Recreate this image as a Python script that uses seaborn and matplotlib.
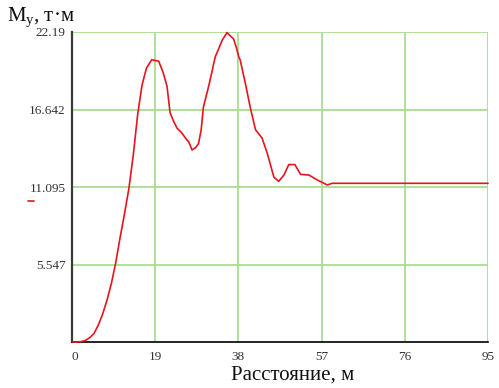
import numpy as np
import pandas as pd
import matplotlib
matplotlib.use("Agg")
import matplotlib.pyplot as plt
import seaborn as sns

# distance, m
distance = [0, 1, 2, 3, 4, 5, 6, 7, 8, 9, 10, 11, 12, 13, 14, 15, 16, 17,
            18.2, 19.8, 20.8, 21.7, 22.4, 23.2, 24.0, 25.0, 25.9, 26.7, 27.4,
            28.2, 28.9, 29.5, 30.0, 31.2, 32.0, 32.7, 33.5, 34.3, 35.4, 36.2,
            36.9, 37.5, 38.1, 38.4, 39.6, 40.7, 41.9, 43.4, 44.6, 45.4, 46.1,
            47.2, 48.4, 49.5, 50.9, 52.2, 54.1, 56.0, 58.3, 59.4, 70, 80, 95]
# bending moment My, t*m
moment = [0.0, 0.0, 0.02, 0.1, 0.3, 0.6, 1.2, 2.0, 3.0, 4.2, 5.7, 7.5, 9.2,
          11.0, 13.4, 16.3, 18.4, 19.6, 20.2, 20.1, 19.3, 18.3, 16.4, 15.8,
          15.3, 15.0, 14.6, 14.3, 13.75, 13.9, 14.2, 15.2, 16.8, 18.3, 19.4,
          20.4, 21.0, 21.6, 22.15, 21.9, 21.7, 21.1, 20.4, 20.2, 18.5, 16.8,
          15.2, 14.6, 13.5, 12.6, 11.8, 11.5, 11.95, 12.7, 12.7, 12.0, 11.95,
          11.6, 11.24, 11.36, 11.36, 11.36, 11.36]

x_ticks = [0, 19, 38, 57, 76, 95]
y_ticks = [0, 5.547, 11.095, 16.642, 22.19]
y_tick_labels = ["", "5.547", "11.095", "16.642", "22.19"]

df = pd.DataFrame({"x": distance, "y": moment})

sns.set_style("white")
plt.rcParams["font.family"] = ["Liberation Serif", "DejaVu Serif"]

fig = plt.figure(figsize=(4.99, 3.88), dpi=100)
ax = fig.add_axes([72 / 499, 46 / 388, 416 / 499, 310 / 388])

grid_color = "#a9dc92"
for xv in x_ticks[1:]:
    ax.axvline(xv, color=grid_color, lw=1.3, zorder=0)
for yv in y_ticks[1:]:
    ax.axhline(yv, color=grid_color, lw=1.3, zorder=0)

sns.lineplot(data=df, x="x", y="y", ax=ax, color="#e8141c", lw=1.2,
             estimator=None, sort=False, clip_on=False, zorder=3)

ax.set_xlim(0, 95)
ax.set_ylim(0, 22.19)
ax.set_xticks(x_ticks)
ax.set_xticklabels([str(v) for v in x_ticks])
ax.set_yticks(y_ticks)
ax.set_yticklabels(y_tick_labels)
ax.tick_params(axis="both", direction="inout", length=7, width=1.2,
               color="black", labelsize=9.5, labelcolor="#333333", pad=1)
ax.tick_params(axis="x", pad=3)
ax.xaxis.get_majorticklabels()[0].set_ha("left")

for s in ["top", "right"]:
    ax.spines[s].set_visible(False)
ax.spines["left"].set_color("#3a3a3a")
ax.spines["left"].set_linewidth(1.6)
ax.spines["bottom"].set_color("black")
ax.spines["bottom"].set_linewidth(1.2)

ax.set_xlabel("Расстояние, м", fontsize=15, labelpad=2, color="#111111")
ax.xaxis.set_label_coords(0.53, -0.075)
ax.set_ylabel("")
fig.text(0.014, 1 - 21 / 388, r"$\mathregular{M_y}$, т·м", fontsize=15,
         color="#111111", ha="left", va="baseline")

# small trace legend marker left of the axis
fig.add_artist(plt.Line2D([28 / 499, 34 / 499], [187 / 388, 187 / 388],
                          color="#e8141c", lw=1.2))

fig.savefig("out.png", dpi=100)
